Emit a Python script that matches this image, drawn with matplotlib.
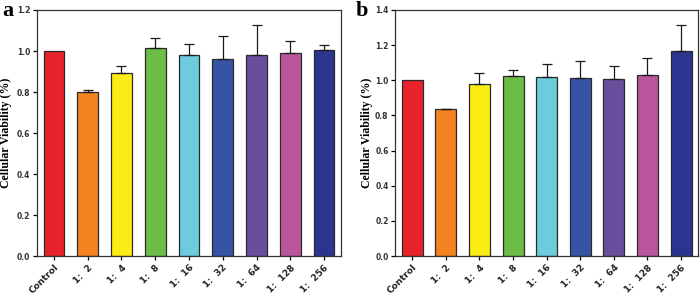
import numpy as np
import matplotlib
matplotlib.use("Agg")
import matplotlib.pyplot as plt

GROUPS = ["Control", "1:  2", "1:  4", "1:  8", "1:  16", "1:  32", "1:  64", "1:  128", "1:  256"]
COLORS = ["#e8222a", "#f58220", "#fcec16", "#6bbd45", "#6dcbde",
          "#3653a4", "#6a4e9e", "#b9559c", "#2b3590"]

# panel a
VIAB_A = [1.000, 0.798, 0.893, 1.015, 0.979, 0.963, 0.980, 0.989, 1.003]
ERR_A  = [0.000, 0.010, 0.033, 0.047, 0.055, 0.112, 0.147, 0.058, 0.025]
# panel b
VIAB_B = [1.000, 0.834, 0.977, 1.023, 1.017, 1.013, 1.006, 1.030, 1.166]
ERR_B  = [0.000, 0.002, 0.066, 0.035, 0.073, 0.094, 0.077, 0.096, 0.147]

fig = plt.figure(figsize=(7, 3.03), dpi=100)
ax_a = fig.add_axes([0.053, 0.155, 0.434, 0.812])
ax_b = fig.add_axes([0.565, 0.155, 0.432, 0.812])


def draw_panel(ax, vals, errs, ymax, yticks, label_x):
    x = np.arange(len(GROUPS))
    ax.bar(x, vals, width=0.62, color=COLORS, edgecolor="#2a2a2a", linewidth=0.9, zorder=2)
    for xi, v, e in zip(x, vals, errs):
        if e > 0:
            ax.errorbar(xi, v, yerr=[[0], [e]], fmt="none", ecolor="#1a1a1a",
                        elinewidth=0.9, capsize=3.5, capthick=0.9, zorder=3)
    ax.set_xlim(-0.5, len(GROUPS) - 0.5)
    ax.set_ylim(0, ymax)
    ax.set_yticks(yticks)
    ax.set_yticklabels([f"{t:.1f}" for t in yticks], fontsize=5.5, fontweight="bold",
                       color="#333333")
    ax.set_xticks(x)
    ax.set_xticklabels(GROUPS, rotation=45, ha="right", rotation_mode="anchor",
                       fontsize=6.5, fontweight="bold", color="#222222")
    ax.tick_params(axis="x", length=3, width=0.9, direction="out", pad=2)
    ax.tick_params(axis="y", length=3, width=0.9, direction="out", pad=2)
    for s in ax.spines.values():
        s.set_linewidth(0.9)
        s.set_color("#333333")
    ax.set_ylabel("Cellular Viability (%)", fontsize=8.5, fontweight="bold",
                  family="Liberation Serif")
    ax.yaxis.set_label_coords(label_x, 0.5)


draw_panel(ax_a, VIAB_A, ERR_A, 1.2, [0.0, 0.2, 0.4, 0.6, 0.8, 1.0, 1.2], -0.083)
draw_panel(ax_b, VIAB_B, ERR_B, 1.4, [0.0, 0.2, 0.4, 0.6, 0.8, 1.0, 1.2, 1.4], -0.075)

fig.text(2 / 700, 1 - 1 / 303, "a", fontsize=16, fontweight="bold",
         family="Liberation Serif", va="top", ha="left")
fig.text(356 / 700, 1 - 1 / 303, "b", fontsize=16, fontweight="bold",
         family="Liberation Serif", va="top", ha="left")

fig.savefig("out.png", dpi=100)
